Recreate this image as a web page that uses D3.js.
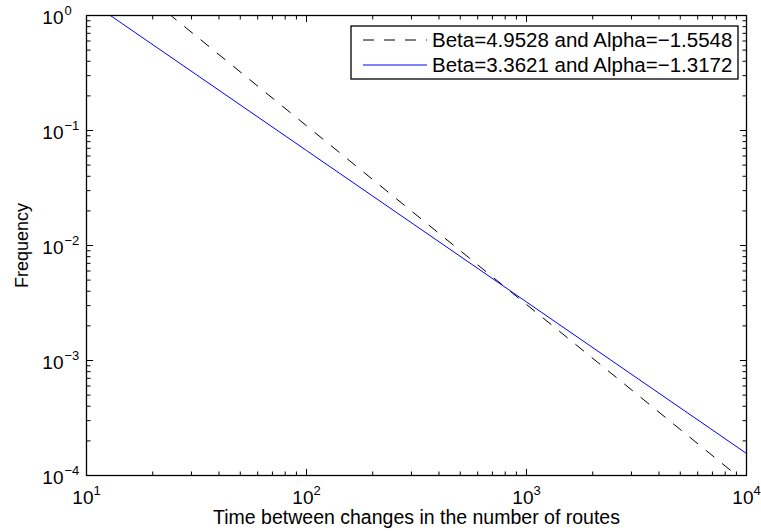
<!DOCTYPE html>
<html>
<head>
<meta charset="utf-8">
<script src="https://cdn.jsdelivr.net/npm/d3@7"></script>
<style>
body { margin: 0; background: #fff; }
text { font-family: "Liberation Sans", Arial, sans-serif; fill: #000; }
</style>
</head>
<body>
<svg id="chart"></svg>
<script>
// values (fit lines, one point per decade)
var xValues = [10, 100, 1000, 10000];
var dashedValues = [3.946, 0.110, 3.07e-3, 8.55e-5];
var blueValues = [1.390, 0.0670, 3.227e-3, 1.554e-4];
var legendLabels = ["Beta=4.9528 and Alpha=\u22121.5548", "Beta=3.3621 and Alpha=\u22121.3172"];
var xTickExp = [1, 2, 3, 4];
var yTickExp = [-4, -3, -2, -1, 0];

var svgWidth = 761, svgHeight = 531;
var margin = {left: 86.5, top: 15.5, right: 14.5, bottom: 55.5};
var w = svgWidth - margin.left - margin.right,
    h = svgHeight - margin.top - margin.bottom;

var svg = d3.select("#chart")
   .attr("width", svgWidth)
   .attr("height", svgHeight);

var x = d3.scaleLog().domain([10, 10000]).range([0, w]);
var y = d3.scaleLog().domain([1e-4, 1]).range([h, 0]);

svg.append("defs").append("clipPath").attr("id", "clip")
   .append("rect").attr("width", w).attr("height", h);

var g = svg.append("g")
   .attr("transform", "translate(" + margin.left + "," + margin.top + ")");

// minor and major ticks on all four sides, pointing inward
function ticksFor(scale) {
   var lo = Math.log10(scale.domain()[0]), hi = Math.log10(scale.domain()[1]);
   var out = [];
   for (var e = lo; e < hi; e++) {
      for (var k = 1; k < 10; k++) out.push({v: k * Math.pow(10, e), major: k == 1});
   }
   out.push({v: Math.pow(10, hi), major: true});
   return out;
}
var majorLen = 6.6, minorLen = 4;
ticksFor(x).forEach(function(t) {
   var px = x(t.v), len = t.major ? majorLen : minorLen;
   g.append("line").attr("x1", px).attr("x2", px).attr("y1", h).attr("y2", h - len)
      .attr("stroke", "#000").attr("stroke-width", 1);
   g.append("line").attr("x1", px).attr("x2", px).attr("y1", 0).attr("y2", len)
      .attr("stroke", "#000").attr("stroke-width", 1);
});
ticksFor(y).forEach(function(t) {
   var py = y(t.v), len = t.major ? majorLen : minorLen;
   g.append("line").attr("x1", 0).attr("x2", len).attr("y1", py).attr("y2", py)
      .attr("stroke", "#000").attr("stroke-width", 1);
   g.append("line").attr("x1", w).attr("x2", w - len).attr("y1", py).attr("y2", py)
      .attr("stroke", "#000").attr("stroke-width", 1);
});

// lines
var line = d3.line()
   .x(function(d, i) { return x(xValues[i]); })
   .y(function(d) { return y(d); });

var plot = g.append("g").attr("clip-path", "url(#clip)");
plot.append("path").datum(dashedValues)
   .attr("d", line)
   .attr("fill", "none")
   .attr("stroke", "#000")
   .attr("stroke-width", 1)
   .attr("stroke-dasharray", "11,10");
plot.append("path").datum(blueValues)
   .attr("d", line)
   .attr("fill", "none")
   .attr("stroke", "#0000ff")
   .attr("stroke-width", 1);

// axes box
g.append("rect").attr("width", w).attr("height", h)
   .attr("fill", "none").attr("stroke", "#000").attr("stroke-width", 1.3);

// tick labels 10^n
var fs = 19, sup = 13;
xTickExp.forEach(function(e) {
   var t = g.append("text")
      .attr("x", x(Math.pow(10, e)))
      .attr("y", h + 28)
      .attr("text-anchor", "middle")
      .style("font-size", fs + "px");
   t.append("tspan").text("10");
   t.append("tspan").attr("dy", -9).style("font-size", sup + "px").text(String(e));
});
yTickExp.forEach(function(e) {
   var py = y(Math.pow(10, e)) + 8;
   g.append("text")
      .attr("x", -23)
      .attr("y", py)
      .attr("text-anchor", "end")
      .style("font-size", fs + "px")
      .text("10");
   g.append("text")
      .attr("x", -22)
      .attr("y", py - 9)
      .style("font-size", sup + "px")
      .text(e < 0 ? "\u2212" + (-e) : String(e));
});

// axis labels
svg.append("text")
   .attr("x", margin.left + w / 2)
   .attr("y", 524)
   .attr("text-anchor", "middle")
   .style("font-size", "19.5px")
   .text("Time between changes in the number of routes");
svg.append("text")
   .attr("transform", "translate(28," + (margin.top + h / 2) + ") rotate(-90)")
   .attr("text-anchor", "middle")
   .style("font-size", "18px")
   .text("Frequency");

// legend
var lg = g.append("g").attr("transform", "translate(" + (351 - margin.left) + "," + (26 - margin.top) + ")");
lg.append("rect").attr("width", 387).attr("height", 53)
   .attr("fill", "#fff").attr("stroke", "#000").attr("stroke-width", 1.3);
var legendStyles = [{c: "#000", dash: "11,10"}, {c: "#0000ff", dash: null}];
legendLabels.forEach(function(lbl, i) {
   var yy = 14 + i * 25;
   lg.append("line").attr("x1", 12).attr("x2", 76).attr("y1", yy).attr("y2", yy)
      .attr("stroke", legendStyles[i].c).attr("stroke-width", 1)
      .attr("stroke-dasharray", legendStyles[i].dash);
   lg.append("text").attr("x", 81).attr("y", yy + 7)
      .style("font-size", "20.5px").text(lbl);
});
</script>
</body>
</html>
